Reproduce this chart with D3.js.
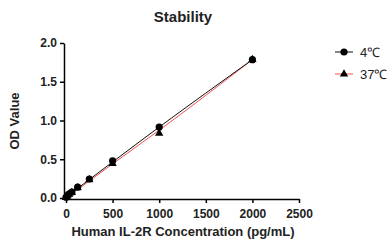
<!DOCTYPE html>
<html>
<head>
<meta charset="utf-8">
<script src="https://cdn.jsdelivr.net/npm/d3@7"></script>
<style>
  body { margin: 0; background: #fff; }
  text { font-family: "Liberation Sans", Arial, sans-serif; }
</style>
</head>
<body>
<svg id="chart"></svg>
<script>
let concentrations = [0, 15.6, 31.25, 62.5, 125, 250, 500, 1000, 2000];
let od4 = [0.01, 0.03, 0.05, 0.075, 0.14, 0.245, 0.48, 0.915, 1.785];
let od37 = [0.005, 0.025, 0.045, 0.07, 0.13, 0.235, 0.445, 0.835, 1.785];

// fitted curves
let fitX = [0, 500, 1000, 2000];
let fit4 = [0.01, 0.465, 0.915, 1.785];
let fit37 = [0.0, 0.44, 0.875, 1.785];

let xTicks = [0, 500, 1000, 1500, 2000, 2500];
let yTicks = [0, 0.5, 1.0, 1.5, 2.0];

function getConfig() {
    let width = 392;
    let height = 249;
    let margin = { top: 43, left: 65, right: 93, bottom: 51 };
    let container = d3.select('#chart')
        .attr('width', width)
        .attr('height', height);
    return { width, height, margin, container };
}

function getScales(config) {
    let { width, height, margin } = config;
    let xScale = d3.scaleLinear()
        .domain([0, 2500])
        .range([margin.left + 1, width - margin.right]);
    let yScale = d3.scaleLinear()
        .domain([0, 2])
        .range([height - margin.bottom, margin.top]);
    return { xScale, yScale };
}

function drawAxes(config, scales) {
    let { container, margin, height } = config;
    let { xScale, yScale } = scales;

    let axisX = d3.axisBottom(xScale).tickValues(xTicks).tickFormat(d3.format('d')).tickSize(4).tickSizeOuter(0);
    let gx = container.append('g')
        .attr('transform', `translate(0,${height - margin.bottom + 1})`)
        .call(axisX);

    let axisY = d3.axisLeft(yScale).tickValues(yTicks).tickFormat(d3.format('.1f')).tickSize(4).tickSizeOuter(0);
    let gy = container.append('g')
        .attr('transform', `translate(${margin.left - 1},0)`)
        .call(axisY);

    [gx, gy].forEach(g => {
        g.selectAll('path, line').attr('stroke', '#000').attr('stroke-width', 1.5);
        g.selectAll('text')
            .attr('fill', '#222')
            .style('font-size', '12px')
            .style('font-weight', 'bold');
    });
    gx.selectAll('text').attr('dy', '1.0em');
    gy.selectAll('text').attr('x', -7);
}

function drawSeries(config, scales) {
    let { container } = config;
    let { xScale, yScale } = scales;
    let line = d3.line()
        .x(d => xScale(d[0]))
        .y(d => yScale(d[1]))
        .curve(d3.curveMonotoneX);

    container.append('path')
        .datum(fitX.map((x, i) => [x, fit37[i]]))
        .attr('d', line)
        .attr('fill', 'none')
        .attr('stroke', '#f05050')
        .attr('stroke-width', 1);

    container.append('path')
        .datum(fitX.map((x, i) => [x, fit4[i]]))
        .attr('d', line)
        .attr('fill', 'none')
        .attr('stroke', '#111')
        .attr('stroke-width', 1);

    let tri = d3.symbol().type(d3.symbolTriangle).size(30);
    container.selectAll('.tri')
        .data(concentrations.map((x, i) => [x, od37[i]]))
        .enter().append('path')
        .attr('class', 'tri')
        .attr('d', tri)
        .attr('transform', d => `translate(${xScale(d[0])},${yScale(d[1])})`)
        .attr('fill', '#000');

    container.selectAll('.dot')
        .data(concentrations.map((x, i) => [x, od4[i]]))
        .enter().append('circle')
        .attr('class', 'dot')
        .attr('cx', d => xScale(d[0]))
        .attr('cy', d => yScale(d[1]))
        .attr('r', 3.6)
        .attr('fill', '#000');
}

function drawTexts(config) {
    let { container } = config;
    container.append('text')
        .attr('x', 183).attr('y', 22)
        .attr('text-anchor', 'middle')
        .style('font-size', '15px').style('font-weight', 'bold')
        .attr('fill', '#222')
        .text('Stability');

    container.append('text')
        .attr('x', 183).attr('y', 236)
        .attr('text-anchor', 'middle')
        .style('font-size', '13px').style('font-weight', 'bold')
        .attr('fill', '#222')
        .text('Human IL-2R Concentration (pg/mL)');

    container.append('text')
        .attr('transform', 'translate(19,121) rotate(-90)')
        .attr('text-anchor', 'middle')
        .style('font-size', '13px').style('font-weight', 'bold')
        .attr('fill', '#222')
        .text('OD Value');
}

function drawLegend(config) {
    let { container } = config;
    let items = [
        { label: '4℃', color: '#111', shape: 'circle', y: 52 },
        { label: '37℃', color: '#f05050', shape: 'triangle', y: 74 }
    ];
    items.forEach(it => {
        container.append('line')
            .attr('x1', 335).attr('x2', 353)
            .attr('y1', it.y).attr('y2', it.y)
            .attr('stroke', it.color).attr('stroke-width', 1);
        if (it.shape === 'circle') {
            container.append('circle').attr('cx', 344).attr('cy', it.y).attr('r', 3.6).attr('fill', '#000');
        } else {
            container.append('path')
                .attr('d', d3.symbol().type(d3.symbolTriangle).size(30))
                .attr('transform', `translate(344,${it.y})`)
                .attr('fill', '#000');
        }
        container.append('text')
            .attr('x', 360).attr('y', it.y + 5)
            .style('font-size', '13px')
            .attr('fill', '#222')
            .text(it.label);
    });
}

let config = getConfig();
let scales = getScales(config);
drawAxes(config, scales);
drawSeries(config, scales);
drawTexts(config);
drawLegend(config);
</script>
</body>
</html>
